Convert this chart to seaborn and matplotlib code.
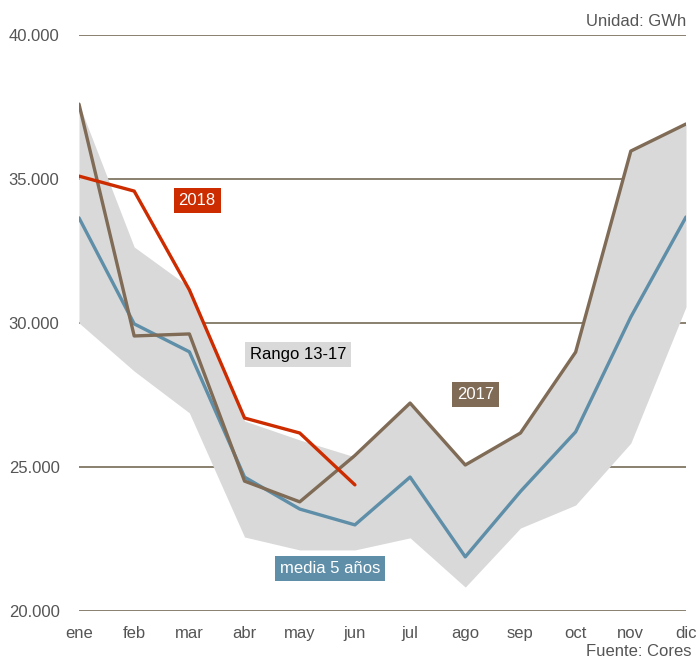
import numpy as np
import pandas as pd
import seaborn as sns
import matplotlib.pyplot as plt

# Consumo mensual de gas natural (GWh)
meses = ['ene', 'feb', 'mar', 'abr', 'may', 'jun',
         'jul', 'ago', 'sep', 'oct', 'nov', 'dic']

media_5 = [33650, 29970, 29000, 24650, 23540, 22990,
           24650, 21880, 24150, 26220, 30210, 33680]
serie_2017 = [37600, 29550, 29620, 24510, 23790, 25400,
              27220, 25070, 26180, 28990, 35970, 36910]
serie_2018 = [35100, 34580, 31150, 26700, 26180, 24380]

rango_max = [37600, 32640, 31250, 26600, 25940, 25350,
             27220, 25070, 26180, 28990, 35970, 36910]
rango_min = [30000, 28330, 26880, 22570, 22120, 22120,
             22540, 20830, 22880, 23680, 25830, 30560]

c_media = '#5e8ea8'
c_2017 = '#7f6b56'
c_2018 = '#cc2c00'
c_rango = '#d9d9d9'
c_grid = '#8a8070'
c_text = '#555555'

sns.set_theme(style='white')
plt.rcParams['font.family'] = ['Liberation Sans', 'DejaVu Sans']

x = np.arange(len(meses))
df = pd.DataFrame({'x': x, 'media': media_5, 's2017': serie_2017})
df18 = pd.DataFrame({'x': x[:len(serie_2018)], 's2018': serie_2018})

fig = plt.figure(figsize=(6.97, 6.6), dpi=100)
ax = fig.add_axes([79 / 697, 49 / 660, 607 / 697, 576 / 660])

ax.fill_between(x, rango_min, rango_max, color=c_rango, lw=0, zorder=1)
for v in [20000, 25000, 30000, 35000, 40000]:
    ax.axhline(v, color=c_grid, lw=1.4, zorder=0.5)

sns.lineplot(data=df, x='x', y='media', color=c_media, lw=2.4, ax=ax, zorder=3)
sns.lineplot(data=df, x='x', y='s2017', color=c_2017, lw=2.4, ax=ax, zorder=4)
sns.lineplot(data=df18, x='x', y='s2018', color=c_2018, lw=2.4, ax=ax, zorder=5)

ax.set_xlim(0, 11)
ax.set_ylim(20000, 40000)
ax.set_xticks(x)
ax.set_xticklabels(meses)
ax.set_yticks([20000, 25000, 30000, 35000, 40000])
ax.set_yticklabels(['20.000', '25.000', '30.000', '35.000', '40.000'])
ax.tick_params(axis='both', length=0, labelsize=12, labelcolor=c_text)
ax.tick_params(axis='y', pad=14)
ax.tick_params(axis='x', pad=11)
ax.set_xlabel('')
ax.set_ylabel('')
for s in ax.spines.values():
    s.set_visible(False)
ax.patch.set_alpha(0)

def etiqueta(xv, yv, texto, fondo, color='white'):
    ax.text(xv, yv, texto, ha='center', va='center', fontsize=12, color=color,
            zorder=6, bbox=dict(boxstyle='square,pad=0.3', fc=fondo, ec='none'))

etiqueta(2.14, 34270, '2018', c_2018)
etiqueta(3.97, 28920, 'Rango 13-17', c_rango, color='black')
etiqueta(7.18, 27530, '2017', c_2017)
etiqueta(4.55, 21460, 'media 5 años', c_media)

fig.text(686 / 697, 1 - 22 / 660, 'Unidad: GWh', ha='right', va='center',
         fontsize=12, color=c_text)
fig.text(692 / 697, 1 - 652 / 660, 'Fuente: Cores', ha='right', va='center',
         fontsize=12, color=c_text)

fig.savefig('out.png', dpi=100, facecolor='white')
